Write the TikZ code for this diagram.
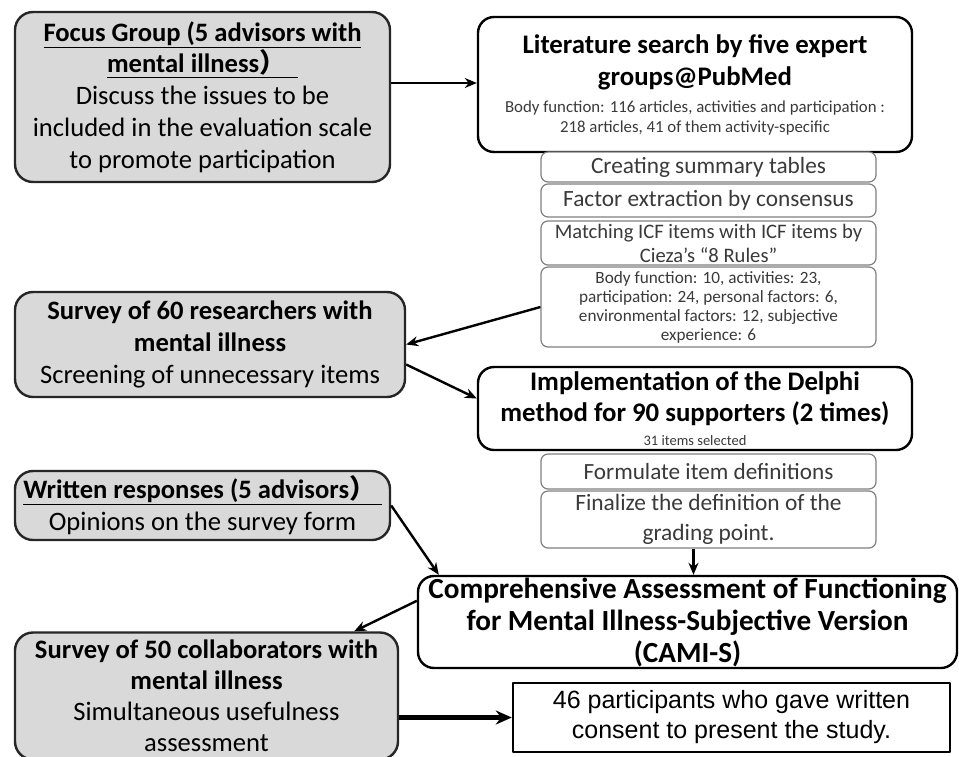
\documentclass[tikz,border=0pt]{standalone}
\usepackage{fontspec}
\setmainfont{Carlito}
\newfontfamily\arialfont{Liberation Sans}
\newfontfamily\cjkfont{Noto Sans CJK JP}
\usetikzlibrary{arrows.meta}
\newcommand\fsz[2]{\fontsize{#1}{#2}\selectfont}
\definecolor{boxgray}{HTML}{D9D9D9}
\definecolor{edgegray}{HTML}{262626}
\definecolor{thingray}{HTML}{808080}
\definecolor{textgray}{HTML}{3A3A3A}
\begin{document}
\begin{tikzpicture}[x=1pt, y=-1pt, line join=round, >={Stealth[length=12pt,width=10pt]},
 graybox/.style={draw=edgegray, line width=2.4pt, fill=boxgray, rounded corners=18pt, align=center, inner sep=0pt,
   font=\fsz{26.6}{31.8}},
 whitebox/.style={draw=black, line width=2.4pt, fill=white, rounded corners=16pt, align=center, inner sep=0pt},
 stepbox/.style={draw=thingray, line width=1.2pt, fill=white, rounded corners=7pt, align=center, inner sep=0pt,
   minimum width=335pt, text=textgray},
 flow/.style={->, line width=2.4pt}]
 \useasboundingbox (0,0) rectangle (959,756);
 % left column
 \node[graybox, minimum width=375pt, minimum height=170pt] (focus) at (202.5,97)
  {\textbf{\underline{Focus Group (5 advisors with}}\\ \textbf{\underline{mental illness{\cjkfont ）}\ \ }}\\
   Discuss the issues to be\\ included in the evaluation scale\\ to promote participation};
 \node[graybox, minimum width=390pt, minimum height=105pt] (survey60) at (210,344.5)
  {\textbf{Survey of 60 researchers with}\\ \textbf{mental illness}\\ Screening of unnecessary items};
 \node[graybox, minimum width=375pt, minimum height=69pt] (written) at (202.5,505.5)
  {\textbf{\underline{Written responses (5 advisors{\cjkfont ）}\ }}\\ Opinions on the survey form};
 \node[graybox, minimum width=383pt, minimum height=127pt, font=\fsz{26.6}{31}] (survey50) at (206.5,696)
  {\textbf{Survey of 50 collaborators with}\\ \textbf{mental illness}\\ Simultaneous usefulness\\ assessment};
 % right column
 \node[whitebox, minimum width=434pt, minimum height=135pt, font=\fsz{26.8}{32}] (lit) at (695,84.5)
  {\textbf{Literature search by five expert}\\ \textbf{groups@PubMed}\\[-5pt]
   {\fsz{16.8}{20}\color{textgray}Body function: 116 articles, activities and participation :}\\[-12pt]
   {\fsz{16.8}{20}\color{textgray}218 articles, 41 of them activity-specific}};
 \node[stepbox, minimum height=30pt, font=\fsz{23.3}{26}] (tables) at (708.5,167) {Creating summary tables};
 \node[stepbox, minimum height=33pt, font=\fsz{23.3}{26}] (factor) at (708.5,200.5) {Factor extraction by consensus};
 \node[stepbox, minimum height=44pt, font=\fsz{20.6}{24}] (matching) at (708.5,243) {Matching ICF items with ICF items by\\ Cieza's ``8 Rules''};
 \node[stepbox, minimum height=80pt, font=\fsz{17.2}{19}] (bodyf) at (708.5,307)
  {Body function: 10, activities: 23,\\ participation: 24,\ personal factors: 6,\\ environmental\ factors: 12, subjective\\ experience: 6};
 \node[whitebox, minimum width=434pt, minimum height=83pt, font=\fsz{26.8}{31}] (delphi) at (695,408.5)
  {\textbf{Implementation of the Delphi}\\ \textbf{method for 90 supporters (2 times)}\\[-7pt]
   {\fsz{14.5}{15}\color{textgray}31 items selected}};
 \node[stepbox, minimum height=35pt, font=\fsz{23.2}{26}] (formulate) at (708.5,471.5) {Formulate item definitions};
 \node[stepbox, minimum height=57pt, font=\fsz{23.4}{30}] (finalize) at (708.5,519.5) {Finalize the definition of the\\ grading point.};
 \node[whitebox, minimum width=539pt, minimum height=92pt, font=\fsz{29.2}{32}] (cami) at (687.5,622)
  {\textbf{Comprehensive Assessment of Functioning}\\ \textbf{for Mental Illness-Subjective Version}\\ \textbf{(CAMI-S)}};
 \node[draw=black, line width=2.4pt, fill=white, minimum width=437pt, minimum height=69pt, align=center, inner sep=0pt,
  font=\arialfont\fsz{25}{30}] (consent) at (731.5,717.5) {46 participants who gave written\\ consent to present the study.};
 % arrows
 \draw[flow] ([yshift=14pt]focus.east) -- ([yshift=14pt]focus.east -| lit.west);
 \draw[flow] (bodyf.west) -- (survey60.east);
 \draw[flow] ([yshift=-20pt]survey60.east) -- ([yshift=10pt]delphi.west);
 \draw[flow] ([xshift=-15pt]finalize.south) -- ([xshift=-15pt]finalize.south |- cami.north);
 \draw[flow] (written.east) -- ([xshift=22pt]cami.north west);
 \draw[flow] ([yshift=-26pt]cami.north west) -- ([xshift=-45pt]survey50.north east);
 \draw[->, line width=4.5pt, >={Stealth[length=16pt,width=14pt]}] (consent.west -| survey50.east) -- (consent.west);
\end{tikzpicture}
\end{document}
